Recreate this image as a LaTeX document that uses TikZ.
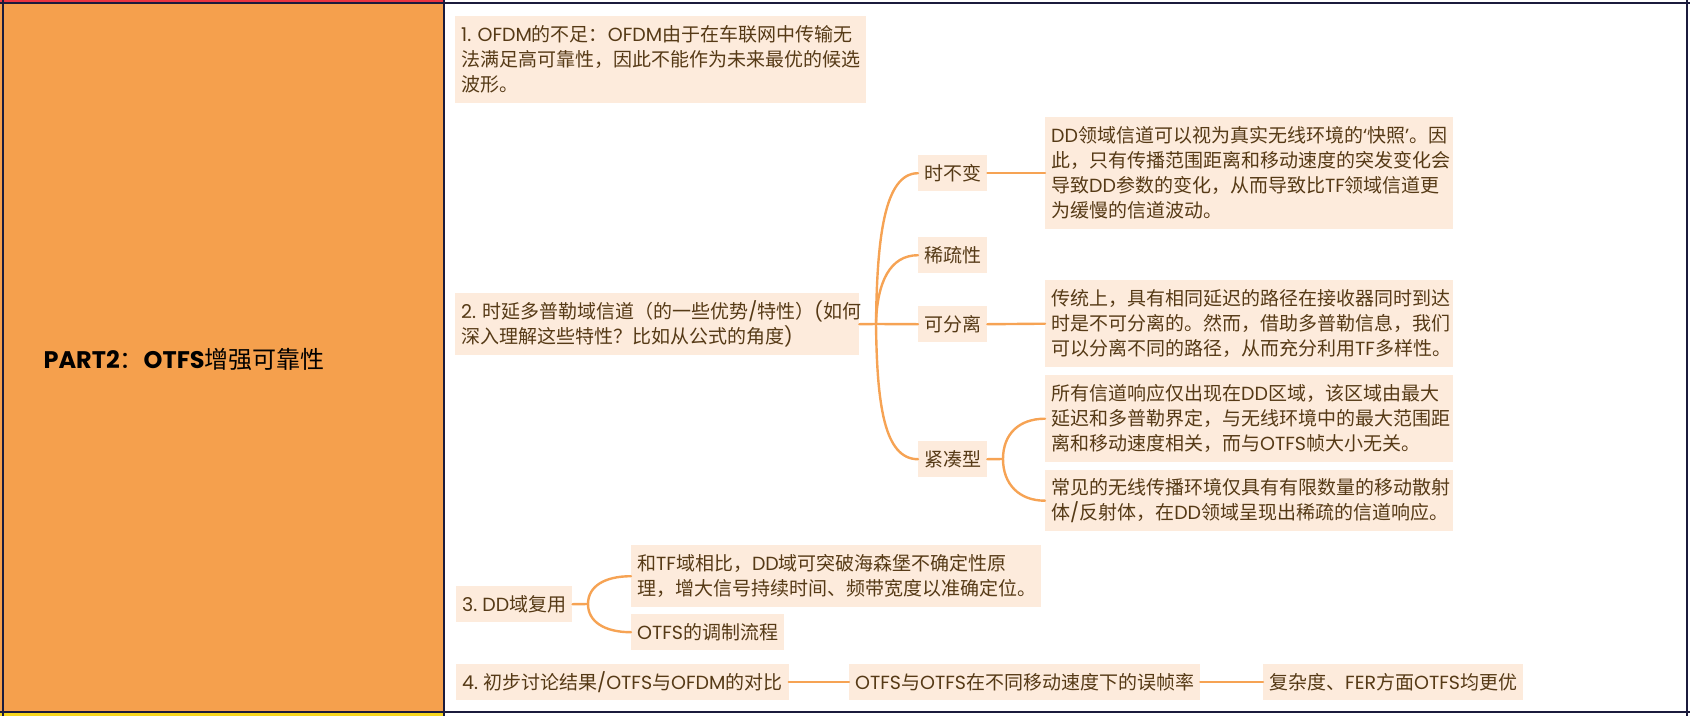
\documentclass[tikz,border=0pt]{standalone}
\usepackage{fontspec}
\setmainfont{Noto Sans CJK SC}
\newfontfamily\latfont{Poppins}
\newcommand{\lat}[1]{{\latfont #1}}
\definecolor{cellorange}{RGB}{245,160,77}
\definecolor{boxfill}{RGB}{253,235,220}
\definecolor{linkorange}{RGB}{246,163,84}
\definecolor{txtbrown}{RGB}{86,58,22}
\definecolor{rulenavy}{RGB}{27,27,60}
\definecolor{stripred}{RGB}{232,52,64}
\definecolor{stripyellow}{RGB}{246,214,30}
\begin{document}
\begin{tikzpicture}[x=1pt, y=-1pt,
    leaf/.style={fill=boxfill, text=txtbrown, anchor=north west, inner xsep=6pt, inner ysep=0pt,
      align=left, font=\fontsize{19}{25}\selectfont},
    link/.style={draw=linkorange, line width=2.4pt, line cap=round},
    rule/.style={draw=rulenavy, line width=2.4pt}]
  \useasboundingbox (0,0) rectangle (1690,716);
  % table cells
  \fill[cellorange] (0,0) rectangle (444,713);
  \fill[stripred] (0,0) rectangle (444,1.6);
  \fill[stripyellow] (0,713) rectangle (444,716);
  \draw[rule] (0,3) -- (1690,3);
  \draw[rule] (0,712) -- (1690,712);
  \draw[rule] (3,0) -- (3,716);
  \draw[rule] (444,0) -- (444,716);
  \draw[rule] (1687,0) -- (1687,716);
  \node at (40,359) [anchor=west, font=\fontsize{24}{28}\selectfont] (part)
    {{\latfont\bfseries PART2}：{\latfont\bfseries OTFS}增强可靠性};

  % first level
  \node at (455,16) [leaf, text width=399pt, minimum height=87pt] (b1)
    {\lat{1.~OFDM}的不足：\lat{OFDM}由于在车联网中传输无\\法满足高可靠性，因此不能作为未来最优的候选\\波形。};
  \node at (455,293) [leaf, text width=392pt, minimum height=62pt] (b2)
    {\lat{2.~}时延多普勒域信道（的一些优势\lat{/}特性）\lat{(}如何\\深入理解这些特性？比如从公式的角度\lat{)}};
  \node at (456,586) [leaf, minimum height=36pt] (b3) {\lat{3.~DD}域复用};
  \node at (456,664) [leaf, minimum height=36pt] (b4) {\lat{4.~}初步讨论结果\lat{/OTFS}与\lat{OFDM}的对比};

  % channel properties
  \node at (918,155) [leaf, minimum height=36pt] (tiv) {时不变};
  \node at (918,237) [leaf, minimum height=36pt] (sparse) {稀疏性};
  \node at (918,306) [leaf, minimum height=36pt] (sep) {可分离};
  \node at (918,441) [leaf, minimum height=36pt] (compact) {紧凑型};

  \node at (1045,117) [leaf, text width=396pt, minimum height=112pt] (tivtxt)
    {\lat{DD}领域信道可以视为真实无线环境的\lat{‘}快照\lat{’}。因\\此，只有传播范围距离和移动速度的突发变化会\\导致\lat{DD}参数的变化，从而导致比\lat{TF}领域信道更\\为缓慢的信道波动。};
  \node at (1045,280) [leaf, text width=396pt, minimum height=87pt] (septxt)
    {传统上，具有相同延迟的路径在接收器同时到达\\时是不可分离的。然而，借助多普勒信息，我们\\可以分离不同的路径，从而充分利用\lat{TF}多样性。};
  \node at (1045,375) [leaf, text width=396pt, minimum height=87pt] (cmptxta)
    {所有信道响应仅出现在\lat{DD}区域，该区域由最大\\延迟和多普勒界定，与无线环境中的最大范围距\\离和移动速度相关，而与\lat{OTFS}帧大小无关。};
  \node at (1045,470) [leaf, text width=396pt, minimum height=61pt] (cmptxtb)
    {常见的无线传播环境仅具有有限数量的移动散射\\体\lat{/}反射体，在\lat{DD}领域呈现出稀疏的信道响应。};

  % DD multiplexing
  \node at (631,545) [leaf, text width=398pt, minimum height=62pt] (heis)
    {和\lat{TF}域相比，\lat{DD}域可突破海森堡不确定性原\\理，增大信号持续时间、频带宽度以准确定位。};
  \node at (631,614) [leaf, minimum height=36pt] (modflow) {\lat{OTFS}的调制流程};

  % results
  \node at (849,664) [leaf, minimum height=36pt] (fer) {\lat{OTFS}与\lat{OTFS}在不同移动速度下的误帧率};
  \node at (1263,664) [leaf, minimum height=36pt] (better) {复杂度、\lat{FER}方面\lat{OTFS}均更优};

  % connectors
  \coordinate (j2) at (876,324);
  \coordinate (j3) at (588,604);
  \coordinate (j4) at (1003,459);
  \draw[link] (b2.east) -- (j2);
  \draw[link] (j2) .. controls +(1,-85) and +(-34,0) .. (tiv.west);
  \draw[link] (j2) .. controls +(1,-42) and +(-28,0) .. (sparse.west);
  \draw[link] (j2) -- (sep.west);
  \draw[link] (j2) .. controls +(1,80) and +(-34,0) .. (compact.west);
  \draw[link] (tiv.east) -- (tivtxt.west);
  \draw[link] (sep.east) -- (septxt.west);
  \draw[link] (compact.east) -- (j4);
  \draw[link] (j4) .. controls +(0,-25) and +(-26,0) .. (cmptxta.west);
  \draw[link] (j4) .. controls +(0,25) and +(-26,0) .. (cmptxtb.west);
  \draw[link] (b3.east) -- (j3);
  \draw[link] (j3) .. controls +(0,-18) and +(-26,0) .. (heis.west);
  \draw[link] (j3) .. controls +(0,18) and +(-26,0) .. (modflow.west);
  \draw[link] (b4.east) -- (fer.west);
  \draw[link] (fer.east) -- (better.west);
\end{tikzpicture}
\end{document}
